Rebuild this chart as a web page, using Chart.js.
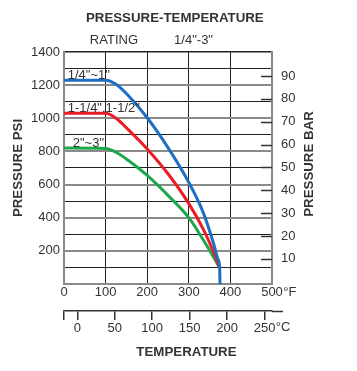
<!DOCTYPE html>
<html>
<head>
<meta charset="utf-8">
<script src="https://cdn.jsdelivr.net/npm/chart.js@4/dist/chart.umd.min.js"></script>
<style>
html,body{margin:0;padding:0;background:#fff;}
#wrap{width:357px;height:371px;position:relative;}
</style>
</head>
<body>
<div id="wrap"><canvas id="c" width="357" height="371"></canvas></div>
<script>
// ---- data ----
const seriesNames = ['1/4"~1"', '1-1/4",1-1/2"', '2"~3"'];
const tempBlue  = [0, 100, 125, 155, 200, 250, 300, 335, 360, 370, 374, 375];
const psiBlue   = [1230, 1230, 1205, 1136, 1003, 823, 613, 429, 240, 150, 104, 0];
const tempRed   = [0, 100, 125, 155, 200, 250, 300, 335, 360, 373];
const psiRed    = [1030, 1030, 1000, 930, 815, 665, 485, 330, 190, 104];
const tempGreen = [0, 100, 125, 155, 200, 250, 300, 335, 360, 373];
const psiGreen  = [820, 818, 795, 745, 655, 535, 400, 265, 160, 104];
const psiTicks  = [0, 100, 200, 300, 400, 500, 600, 700, 800, 900, 1000, 1100, 1200, 1300, 1400];
const barTicks  = [10, 20, 30, 40, 50, 60, 70, 80, 90];
const tempFTicks = [0, 100, 200, 300, 400, 500];
const tempCTicks = [0, 50, 100, 150, 200, 250];
const titleText = 'PRESSURE-TEMPERATURE';
const subtitleText = 'RATING          1/4"-3"';
const yTitle = 'PRESSURE PSI';
const y1Title = 'PRESSURE BAR';
const xTitle = 'TEMPERATURE';

const F_MIN = 0, F_MAX = 500;
const f2c = f => (f - 32) * 5 / 9;

const BOLD = '"Liberation Sans", Arial, sans-serif';
const REG = '"Liberation Sans", Arial, sans-serif';
const TXT = '#333333';
const GRAY = '#8a8a8a';
const DARK = '#222222';

function pts(xs, ys){ return xs.map((x,i)=>({x:x, y:ys[i]})); }

const extras = {
  id: 'extras',
  afterDraw(chart){
    const ctx = chart.ctx;
    const ca = chart.chartArea;
    const x = chart.scales.x, y = chart.scales.y, y1 = chart.scales.y1, x2 = chart.scales.x2;
    ctx.save();
    // inner ticks of the bar axis
    ctx.strokeStyle = '#333';
    ctx.lineWidth = 1.5;
    y1.ticks.forEach(t => {
      const py = Math.round(y1.getPixelForValue(t.value)) + 0.5;
      ctx.beginPath(); ctx.moveTo(ca.right - 11, py); ctx.lineTo(ca.right, py); ctx.stroke();
    });
    // extension of the celsius axis line
    ctx.beginPath(); ctx.moveTo(x2.right, x2.top + 0.5); ctx.lineTo(x2.right + 11, x2.top + 0.5); ctx.stroke();
    // curve labels
    ctx.fillStyle = TXT;
    ctx.font = '13px ' + REG;
    ctx.textAlign = 'left';
    ctx.textBaseline = 'alphabetic';
    chart.data.datasets.forEach(ds => {
      const px = x.getPixelForValue(ds.labelAt);
      const py = y.getPixelForValue(ds.data[0].y) - 1.5;
      ctx.fillText(ds.label, px, py);
    });
    // unit marks
    ctx.textBaseline = 'middle';
    const lastF = tempFTicks[tempFTicks.length - 1];
    const wF = ctx.measureText(String(lastF)).width;
    ctx.fillText('°F', x.getPixelForValue(lastF) + wF / 2 + 0.5, 292);
    const lastC = tempCTicks[tempCTicks.length - 1];
    const wC = ctx.measureText(String(lastC)).width;
    ctx.fillText('°C', x2.getPixelForValue(lastC) + wC / 2 + 0.5, 327);
    // right axis title, reading upward
    ctx.font = 'bold 13.3px ' + BOLD;
    ctx.textAlign = 'center';
    ctx.textBaseline = 'middle';
    ctx.translate(y1.left + 37, (ca.top + ca.bottom) / 2 - 4);
    ctx.rotate(-Math.PI / 2);
    ctx.fillText(y1Title, 0, 0);
    ctx.restore();
  }
};

new Chart(document.getElementById('c'), {
  type: 'line',
  data: {
    datasets: [
      { label: seriesNames[0], data: pts(tempBlue, psiBlue), borderColor: '#1d6fc6', labelAt: 9 },
      { label: seriesNames[1], data: pts(tempRed, psiRed), borderColor: '#ec1c24', labelAt: 9 },
      { label: seriesNames[2], data: pts(tempGreen, psiGreen), borderColor: '#1ea64b', labelAt: 21 }
    ]
  },
  options: {
    responsive: false,
    animation: false,
    devicePixelRatio: 1,
    layout: { padding: 0 },
    elements: {
      line: { borderWidth: 3, cubicInterpolationMode: 'monotone', fill: false },
      point: { radius: 0, hoverRadius: 0 }
    },
    plugins: {
      legend: { display: false },
      tooltip: { enabled: false },
      title: {
        display: true, text: titleText + '  ', color: TXT,
        font: { family: BOLD, size: 13.3, weight: 'bold' },
        padding: { top: 10, bottom: 3 }
      },
      subtitle: {
        display: true, text: subtitleText + '               ', color: TXT,
        font: { family: REG, size: 13, weight: 'normal' },
        padding: { top: 3.2, bottom: 4.2 }
      }
    },
    scales: {
      x: {
        type: 'linear', position: 'bottom', min: F_MIN, max: F_MAX,
        afterBuildTicks: s => { s.ticks = tempFTicks.map(v => ({ value: v })); },
        afterFit: s => { s.height = 27; },
        ticks: { color: TXT, padding: 1, maxRotation: 0, font: { family: REG, size: 13 } },
        grid: {
          drawTicks: false,
          color: c => (c.tick && (c.tick.value === F_MIN || c.tick.value === F_MAX)) ? GRAY : DARK,
          lineWidth: c => (c.tick && (c.tick.value === F_MIN || c.tick.value === F_MAX)) ? 2 : 1
        },
        border: { display: true, color: GRAY, width: 2 }
      },
      x2: {
        type: 'linear', position: 'bottom', weight: 1,
        min: f2c(F_MIN), max: f2c(F_MAX),
        afterBuildTicks: s => { s.ticks = [{ value: f2c(F_MIN) }].concat(tempCTicks.map(v => ({ value: v }))); },
        afterFit: s => { s.height = 60; },
        ticks: {
          color: TXT, padding: 1, maxRotation: 0, autoSkip: false,
          font: { family: REG, size: 13 },
          callback: v => (v < 0 ? '' : String(v))
        },
        grid: { drawOnChartArea: false, drawTicks: true, tickLength: 9, color: '#333', lineWidth: 1.5 },
        border: { display: true, color: '#333', width: 1.5 },
        title: {
          display: true, text: '          ' + xTitle, color: TXT,
          font: { family: BOLD, size: 13.3, weight: 'bold' },
          padding: { top: 0, bottom: 10.6 }
        }
      },
      y: {
        type: 'linear', position: 'left', min: 0, max: 1400,
        afterBuildTicks: s => { s.ticks = psiTicks.map(v => ({ value: v })); },
        afterFit: s => { s.width = 64; },
        ticks: {
          color: TXT, padding: 4, autoSkip: false,
          font: { family: REG, size: 13 },
          callback: v => (v > 0 && v % 200 === 0) ? String(v) : ''
        },
        grid: {
          drawTicks: false,
          color: c => {
            const v = c.tick ? c.tick.value : -1;
            if (v === 1400) return DARK;
            return (v % 200 === 0) ? GRAY : DARK;
          },
          lineWidth: c => {
            const v = c.tick ? c.tick.value : -1;
            if (v === 1400) return 1.5;
            return (v % 200 === 0) ? 2 : 1;
          }
        },
        border: { display: true, color: GRAY, width: 2 },
        title: {
          display: true, text: yTitle, color: TXT,
          font: { family: BOLD, size: 13.3, weight: 'bold' },
          padding: { top: 10, bottom: 0 }
        }
      },
      y1: {
        type: 'linear', position: 'right', min: -1, max: 100.5,
        afterBuildTicks: s => { s.ticks = barTicks.map(v => ({ value: v })); },
        afterFit: s => { s.width = 85; },
        ticks: { color: TXT, padding: 9, autoSkip: false, font: { family: REG, size: 13 } },
        grid: { drawOnChartArea: false, drawTicks: false },
        border: { display: true, color: GRAY, width: 2 }
      }
    }
  },
  plugins: [extras]
});
</script>
</body>
</html>
